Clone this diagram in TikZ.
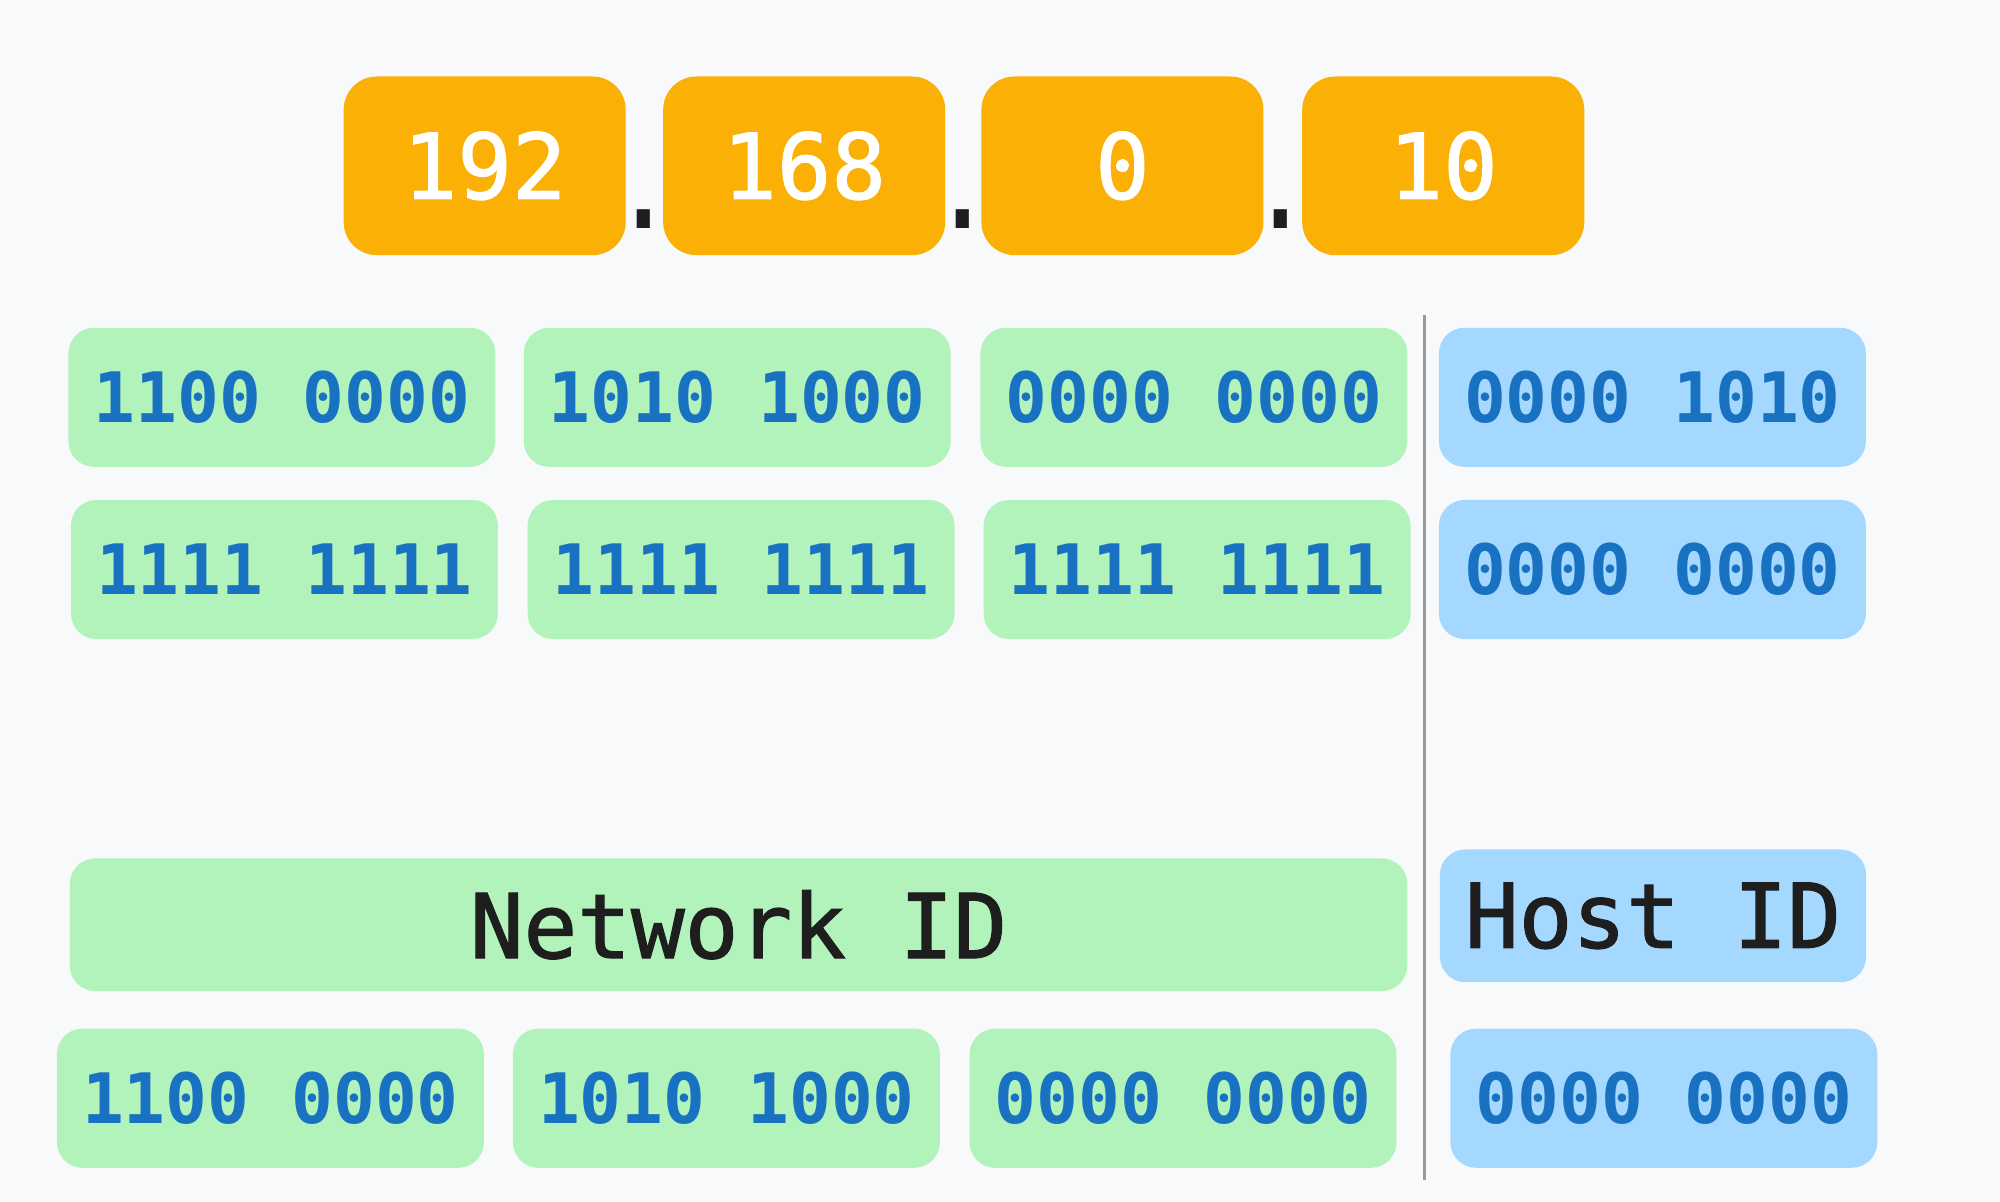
\documentclass[tikz,border=0pt]{standalone}
\usepackage{fontspec}
\setmonofont{DejaVu Sans Mono}
\newfontfamily\medmono[FakeBold=1.4]{DejaVu Sans Mono}
\begin{document}
\begin{tikzpicture}[x=0.01cm,y=-0.01cm,
  ipbox/.style={fill=ipor, rounded corners=0.26cm, inner sep=0pt, minimum width=2.21cm, minimum height=1.40cm, text=white, font=\medmono\fontsize{20.2}{24}\selectfont},
  bitsbox/.style={rounded corners=0.2cm, inner sep=0pt, minimum width=3.345cm, minimum height=1.09cm, text=bitblue, font=\ttfamily\bfseries\fontsize{15.5}{19}\selectfont},
  netbox/.style={bitsbox, fill=netgreen},
  hostbox/.style={bitsbox, fill=hostblue},
  labelbox/.style={rounded corners=0.2cm, inner sep=0pt, minimum height=1.04cm, text=dark, font=\medmono\fontsize{19.9}{24}\selectfont},
  dotmark/.style={text=dark, inner sep=0pt, font=\ttfamily\bfseries\fontsize{18}{20}\selectfont}
]
\definecolor{bg}{HTML}{F8F9FA}
\definecolor{ipor}{HTML}{FAB005}
\definecolor{netgreen}{HTML}{B2F2BB}
\definecolor{hostblue}{HTML}{A5D8FF}
\definecolor{bitblue}{HTML}{1971C2}
\definecolor{dark}{HTML}{1E1E1E}
\definecolor{divgray}{HTML}{999999}
\fill[bg] (0,0) rectangle (1568,941.6);
\useasboundingbox (0,0) rectangle (1568,941.6);

% IP octets
\node[ipbox] (o1) at (380,130) {192};
\node[ipbox] (o2) at (630.5,130) {168};
\node[ipbox] (o3) at (880,130) {0};
\node[ipbox] (o4) at (1131.5,130) {10};
\node[dotmark, yscale=1.3] (d1) at (504.5,172) {.};
\node[dotmark, yscale=1.3] (d2) at (754.5,172) {.};
\node[dotmark, yscale=1.3] (d3) at (1004.5,172) {.};

% row 1: address bits
\node[netbox] (a1) at (221,311.5) {1100 0000};
\node[netbox] (a2) at (578,311.5) {1010 1000};
\node[netbox] (a3) at (936,311.5) {0000 0000};
\node[hostbox] (a4) at (1295.5,311.5) {0000 1010};

% row 2: mask bits
\node[netbox] (m1) at (223,446.5) {1111 1111};
\node[netbox] (m2) at (581,446.5) {1111 1111};
\node[netbox] (m3) at (938.5,446.5) {1111 1111};
\node[hostbox] (m4) at (1295.5,446.5) {0000 0000};

% labels
\node[labelbox, fill=netgreen, minimum width=10.48cm] (netid) at (579,725) {Network ID};
\node[labelbox, fill=hostblue, minimum width=3.34cm] (hostid) at (1296,718) {Host ID};

% row 3: result
\node[netbox] (r1) at (212,861) {1100 0000};
\node[netbox] (r2) at (569.5,861) {1010 1000};
\node[netbox] (r3) at (927.5,861) {0000 0000};
\node[hostbox] (r4) at (1304.5,861) {0000 0000};

% divider
\coordinate (divtop) at (1117,247);
\coordinate (divbot) at (1117,925);
\draw[divgray, line width=0.02cm] (divtop) -- (divbot);
\end{tikzpicture}
\end{document}
